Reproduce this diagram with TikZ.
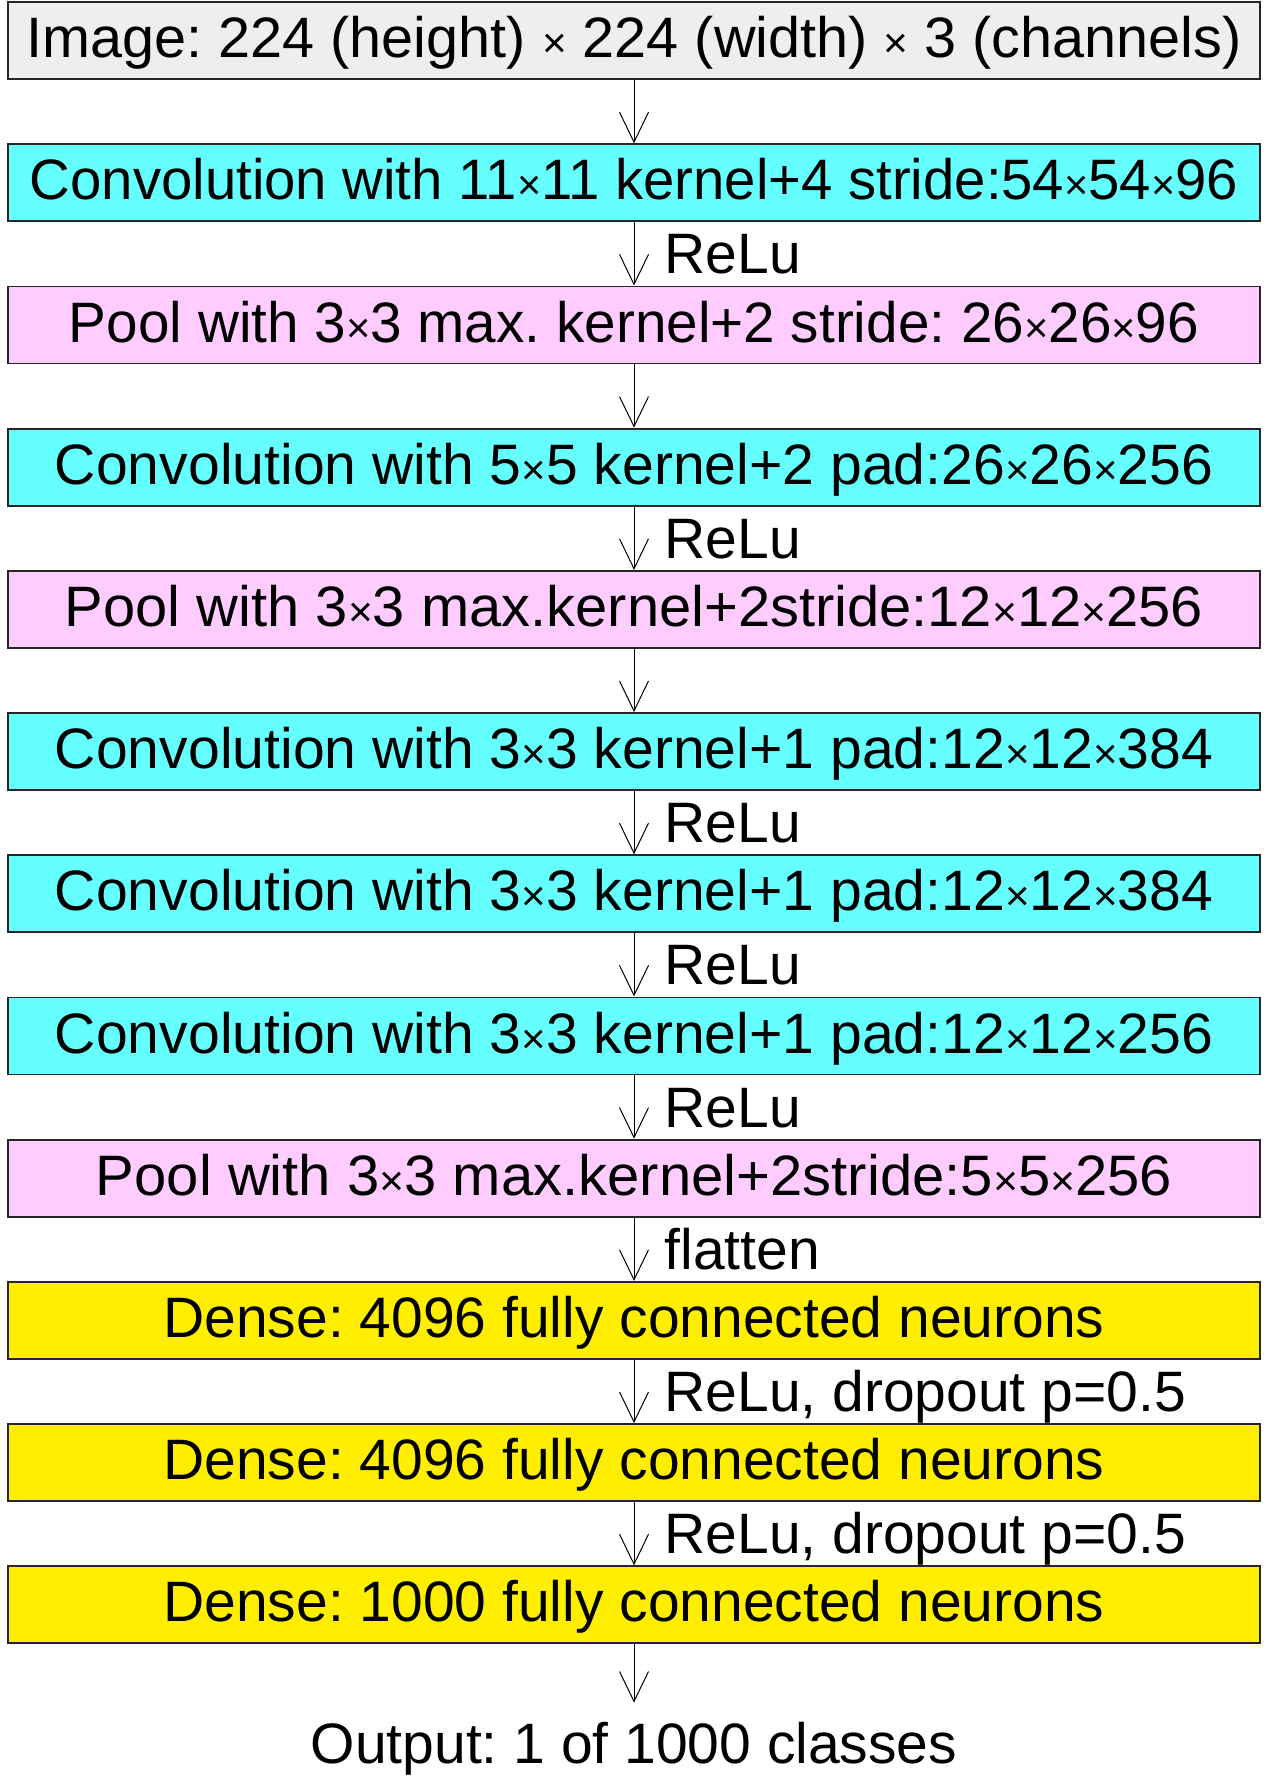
\documentclass[tikz,border=0pt]{standalone}
\usepackage{fontspec}
\setmainfont{Liberation Sans}
\usetikzlibrary{arrows.meta}
\frenchspacing
\definecolor{imggray}{RGB}{238,238,238}
\definecolor{convcyan}{RGB}{102,255,255}
\definecolor{poolpink}{RGB}{255,204,255}
\definecolor{denseyellow}{RGB}{255,238,0}
\newcommand{\fitw}[2]{\resizebox{#1}{\height}{#2}}
\newcommand{\by}{{\fontsize{21pt}{21pt}\selectfont ×}}
\tikzset{
  layer/.style={draw=black!85,line width=0.9pt,rectangle,inner sep=0pt,
    minimum width=626pt,minimum height=38.5pt,text height=21.4pt,text depth=4.3pt},
  flow/.style={-{Straight Barb[length=15pt,width=14.5pt]},line width=0.5pt},
  lbl/.style={anchor=base west,inner sep=0pt,xshift=15pt,yshift=-10pt}
}
\begin{document}
\begin{tikzpicture}[x=0.5pt,y=-0.5pt,font=\fontsize{28.5pt}{34pt}\selectfont]
    \useasboundingbox (0,0) rectangle (1274,1776);
    \node[layer,fill=imggray] (img) at (634,40.5) {\fitw{607.5pt}{Image: 224 (height) \by{} 224 (width) \by{} 3 (channels)}};
    \node[layer,fill=convcyan] (conv1) at (634,182.7) {\fitw{604pt}{Convolution with 11\by11 kernel+4 stride:54\by54\by96}};
    \node[layer,fill=poolpink] (pool1) at (634,324.9) {\fitw{565pt}{Pool with 3\by3 max. kernel+2 stride: 26\by26\by96}};
    \node[layer,fill=convcyan] (conv2) at (634,467.1) {\fitw{579pt}{Convolution with 5\by5 kernel+2 pad:26\by26\by256}};
    \node[layer,fill=poolpink] (pool2) at (634,609.3) {\fitw{569pt}{Pool with 3\by3 max.kernel+2stride:12\by12\by256}};
    \node[layer,fill=convcyan] (conv3) at (634,751.5) {\fitw{579pt}{Convolution with 3\by3 kernel+1 pad:12\by12\by384}};
    \node[layer,fill=convcyan] (conv4) at (634,893.7) {\fitw{579pt}{Convolution with 3\by3 kernel+1 pad:12\by12\by384}};
    \node[layer,fill=convcyan] (conv5) at (634,1035.9) {\fitw{579pt}{Convolution with 3\by3 kernel+1 pad:12\by12\by256}};
    \node[layer,fill=poolpink] (pool3) at (634,1178.1) {\fitw{538pt}{Pool with 3\by3 max.kernel+2stride:5\by5\by256}};
    \node[layer,fill=denseyellow] (fc1) at (634,1320.3) {Dense: 4096 fully connected neurons};
    \node[layer,fill=denseyellow] (fc2) at (634,1462.5) {Dense: 4096 fully connected neurons};
    \node[layer,fill=denseyellow] (fc3) at (634,1604.7) {Dense: 1000 fully connected neurons};
    \node[anchor=base,inner xsep=0pt,inner ysep=8.6pt,text height=21.4pt,text depth=4.3pt] (out) at (634,1763) {Output: 1 of 1000 classes};
    % connectors between the layers
    \foreach \a/\b/\t in {img/conv1/,conv1/pool1/ReLu,pool1/conv2/,conv2/pool2/ReLu,
        pool2/conv3/,conv3/conv4/ReLu,conv4/conv5/ReLu,conv5/pool3/ReLu,pool3/fc1/flatten,
        fc1/fc2/{ReLu, dropout p=0.5},fc2/fc3/{ReLu, dropout p=0.5},fc3/out/}
        \draw[flow] (\a.south) -- (\b.north) node[lbl,midway] {\t};
\end{tikzpicture}
\end{document}
